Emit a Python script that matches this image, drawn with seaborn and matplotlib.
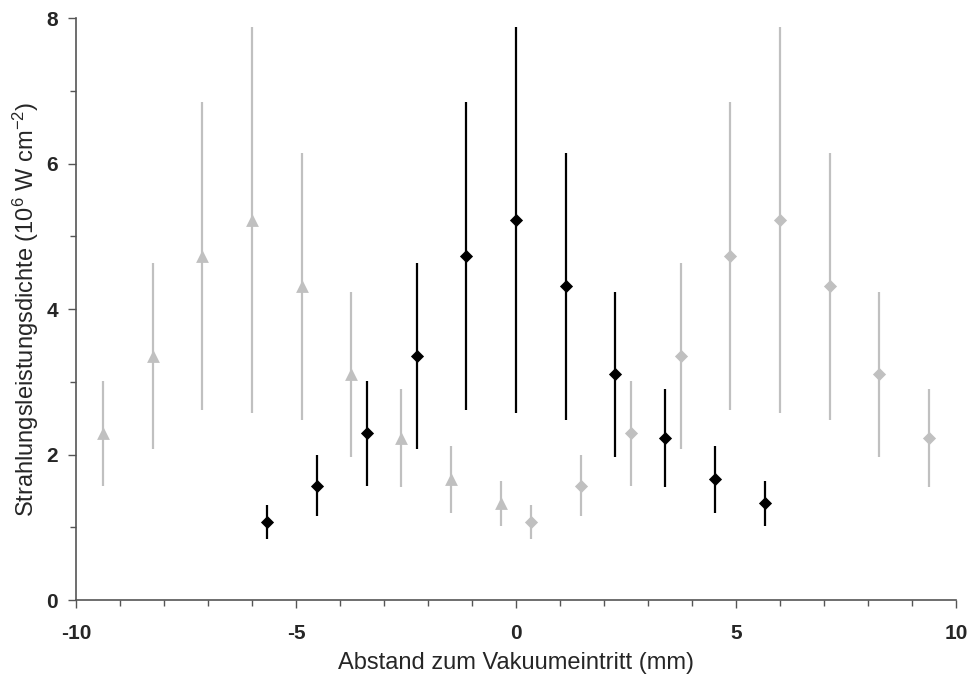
import matplotlib
matplotlib.use("Agg")
import matplotlib.pyplot as plt
import seaborn as sns
import pandas as pd
from matplotlib.ticker import MultipleLocator

# measured profile (black), and the same profile shown shifted left / right (grey)
black_x = [-5.65, -4.52, -3.39, -2.26, -1.13, 0.0, 1.13, 2.26, 3.39, 4.52, 5.65]
black_y = [1.07, 1.57, 2.29, 3.35, 4.73, 5.22, 4.31, 3.10, 2.23, 1.66, 1.33]
black_err = [0.23, 0.42, 0.72, 1.28, 2.12, 2.65, 1.84, 1.13, 0.67, 0.46, 0.31]

tri_x = [-9.39, -8.26, -7.13, -6.0, -4.87, -3.74, -2.61, -1.48, -0.35]
tri_y = [2.29, 3.35, 4.73, 5.22, 4.31, 3.10, 2.23, 1.66, 1.33]
tri_err = [0.72, 1.28, 2.12, 2.65, 1.84, 1.13, 0.67, 0.46, 0.31]

gdia_x = [0.35, 1.48, 2.61, 3.74, 4.87, 6.0, 7.13, 8.26, 9.39]
gdia_y = [1.07, 1.57, 2.29, 3.35, 4.73, 5.22, 4.31, 3.10, 2.23]
gdia_err = [0.23, 0.42, 0.72, 1.28, 2.12, 2.65, 1.84, 1.13, 0.67]

grey = "#c0c0c0"

sns.set_style("ticks")
plt.rcParams["font.family"] = ["Liberation Sans", "DejaVu Sans"]
plt.rcParams["mathtext.default"] = "regular"
plt.rcParams["axes.unicode_minus"] = False

fig = plt.figure(figsize=(9.7, 6.75), dpi=100)
ax = fig.add_axes([0.0784, 0.1111, 0.9072, 0.8622])

series = [
    (tri_x, tri_y, tri_err, grey, "^", 85),
    (gdia_x, gdia_y, gdia_err, grey, "D", 45),
    (black_x, black_y, black_err, "black", "D", 45),
]
for xs, ys, es, col, mk, sz in series:
    ax.errorbar(xs, ys, yerr=es, fmt="none", ecolor=col, elinewidth=1.6, capsize=0, zorder=2)
    df = pd.DataFrame({"x": xs, "y": ys})
    sns.scatterplot(data=df, x="x", y="y", ax=ax, color=col, marker=mk, s=sz,
                    edgecolor=col, linewidth=0, zorder=3)

ax.set_xlim(-10, 10)
ax.set_ylim(0, 8)
ax.xaxis.set_major_locator(MultipleLocator(5))
ax.xaxis.set_minor_locator(MultipleLocator(1))
ax.yaxis.set_major_locator(MultipleLocator(2))
ax.yaxis.set_minor_locator(MultipleLocator(1))
ax.tick_params(which="major", length=6, width=1, color="#555555", labelsize=15)
ax.tick_params(axis="x", which="major", pad=11)
ax.tick_params(axis="y", which="major", pad=7)
ax.tick_params(which="minor", length=4, width=1, color="#555555")
for lab in ax.get_xticklabels() + ax.get_yticklabels():
    lab.set_fontweight("bold")

sns.despine(ax=ax)
for s in ["left", "bottom"]:
    ax.spines[s].set_color("#555555")
    ax.spines[s].set_linewidth(1.2)

ax.set_xlabel("Abstand zum Vakuumeintritt (mm)", fontsize=17, labelpad=7)
ax.set_ylabel("Strahlungsleistungsdichte (10$^{6}$ W cm$^{-2}$)", fontsize=17, labelpad=4)

fig.savefig("out.png", dpi=100)
